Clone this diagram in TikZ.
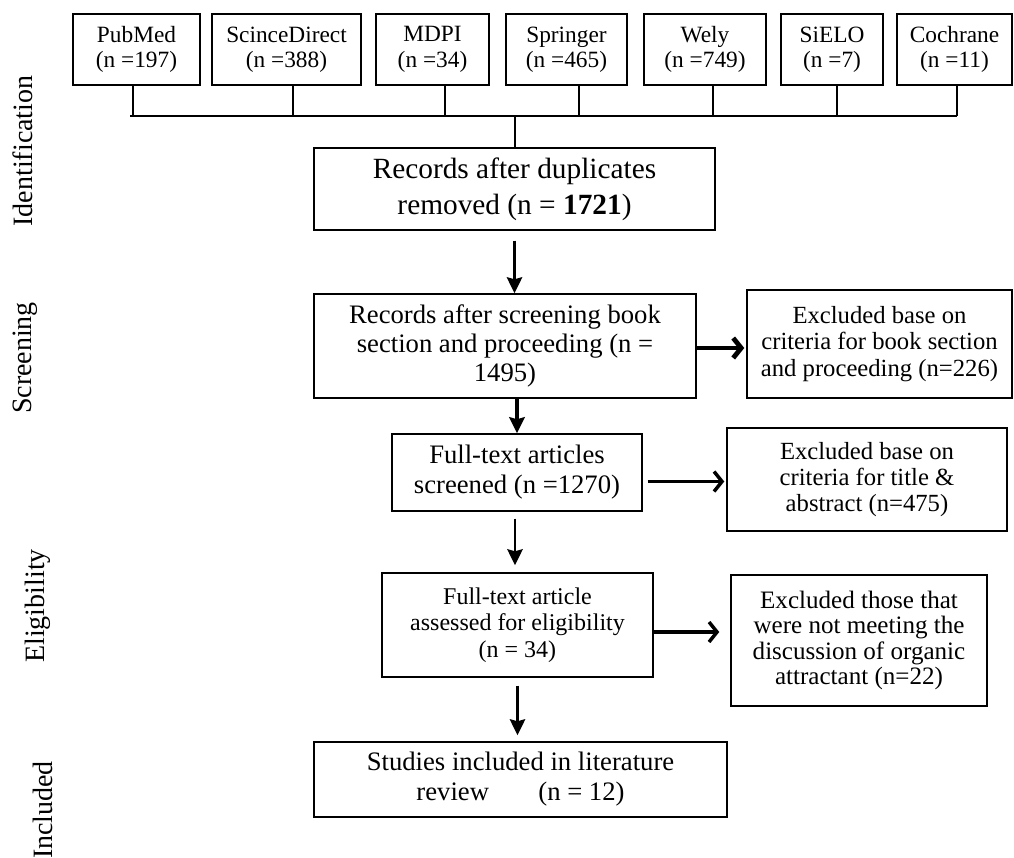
\documentclass[tikz,border=0pt]{standalone}
\usepackage{fontspec}
\setmainfont{Liberation Serif}
\usepackage{tikz}
\usetikzlibrary{calc,arrows.meta}

\begin{document}
\begin{tikzpicture}[x=0.75pt, y=-0.75pt,
	box/.style={draw, line width=1.1pt, inner sep=0pt, align=center},
	src/.style={box, minimum height=53.25pt, font=\fontsize{17.5}{19}\selectfont},
	stage/.style={rotate=90, font=\fontsize{21}{24}\selectfont},
	down/.style={line width=2pt, -{Stealth[length=12pt,width=11.5pt,inset=1.5pt]}},
	side/.style={line width=3.6pt, -{Straight Barb[length=6pt,width=15pt]}}]
		\useasboundingbox (0,0) rectangle (1014,857);
		\node[stage] (ident) at (23,151) {Identification};
		\node[stage] (scr) at (25,358) {Screening};
		\node[stage] (elig) at (38,606) {Eligibility};
		\node[stage] (incl) at (43,810) {Included};

		\node[src, minimum width=95.25pt] (pubmed) at (136.5,49.5) {PubMed\\(n =197)};
		\node[src, minimum width=111.75pt] (scidir) at (286.5,49.5) {ScinceDirect\\(n =388)};
		\node[src, minimum width=84.75pt] (mdpi) at (432.5,49.5) {MDPI\\(n =34)};
		\node[src, minimum width=90.75pt] (springer) at (566.5,49.5) {Springer\\(n =465)};
		\node[src, minimum width=91.5pt] (wely) at (705,49.5) {Wely\\(n =749)};
		\node[src, minimum width=76.5pt] (sielo) at (832,49.5) {SiELO\\(n =7)};
		\node[src, minimum width=86.25pt] (cochrane) at (954.5,49.5) {Cochrane\\(n =11)};

		%the bus under the sources
		\coordinate (busL) at (130,116);
		\coordinate (busR) at (957,116);
		\draw[line width=1pt] (busL) -- (busR);
		\foreach \n/\x in {pubmed/133,scidir/293,mdpi/445,springer/579,wely/713,sielo/837,cochrane/957} {
			\coordinate (t\n) at (\x,116);
			\draw[line width=1pt] (\n.south -| t\n) -- (t\n);
		}

		\node[box, minimum width=300.75pt, minimum height=61.5pt, font=\fontsize{22}{27}\selectfont] (dup) at (514.5,189) {Records after duplicates\\removed (n = \textbf{1721})};
		\coordinate (tdup) at (515,116);
		\draw[line width=1pt] (tdup) -- (tdup |- dup.north);

		\node[box, minimum width=286.5pt, minimum height=78pt, font=\fontsize{20}{22}\selectfont] (screen) at (505,346) {Records after screening book\\section and proceeding (n =\\1495)};
		\node[box, minimum width=198.75pt, minimum height=81pt, font=\fontsize{18.5}{20}\selectfont] (excl1) at (879.5,344) {Excluded base on\\criteria for book section\\and proceeding (n=226)};
		\node[box, minimum width=187.5pt, minimum height=57.75pt, font=\fontsize{20}{22.5}\selectfont] (fulltext) at (517,472.5) {Full-text articles\\screened (n =1270)};
		\node[box, minimum width=210pt, minimum height=77.25pt, font=\fontsize{18.5}{19.5}\selectfont] (excl2) at (867,479.5) {Excluded base on\\criteria for title \&\\abstract (n=475)};
		\node[box, minimum width=203.25pt, minimum height=78pt, font=\fontsize{18}{20}\selectfont] (assessed) at (517.5,625) {Full-text article\\assessed for eligibility\\(n = 34)};
		\node[box, minimum width=192pt, minimum height=98.25pt, font=\fontsize{18.8}{19}\selectfont] (excl3) at (859,640.5) {Excluded those that\\were not meeting the\\discussion of organic\\attractant (n=22)};
		\node[box, minimum width=309.75pt, minimum height=56.25pt, font=\fontsize{20}{22.5}\selectfont] (studies) at (520.5,779.5) {Studies included in literature\\review\hspace{1.6em} (n = 12)};

		\draw[down] ($(dup.south)+(0,10)$) to (dup.south |- screen.north);
		\draw[down, line width=2.6pt] (screen.south -| fulltext.north) to (fulltext.north);
		\draw[down] ($(fulltext.south)+(-2,7)$) to ($(fulltext.south |- assessed.north)+(-2,-7)$);
		\draw[down] ($(assessed.south)+(0,8)$) to ($(assessed.south |- studies.north)+(0,-6)$);

		\draw[side] ($(screen.east)+(0,2)$) to ($(screen.east -| excl1.west)+(-2,2)$);
		\draw[side, line width=2.6pt] ($(fulltext.east)+(5,9)$) to ($(fulltext.east -| excl2.west)+(-2,9)$);
		\draw[side, line width=2.6pt] ($(assessed.east)+(0,7)$) to ($(assessed.east -| excl3.west)+(-11,7)$);
	\end{tikzpicture}
\end{document}
